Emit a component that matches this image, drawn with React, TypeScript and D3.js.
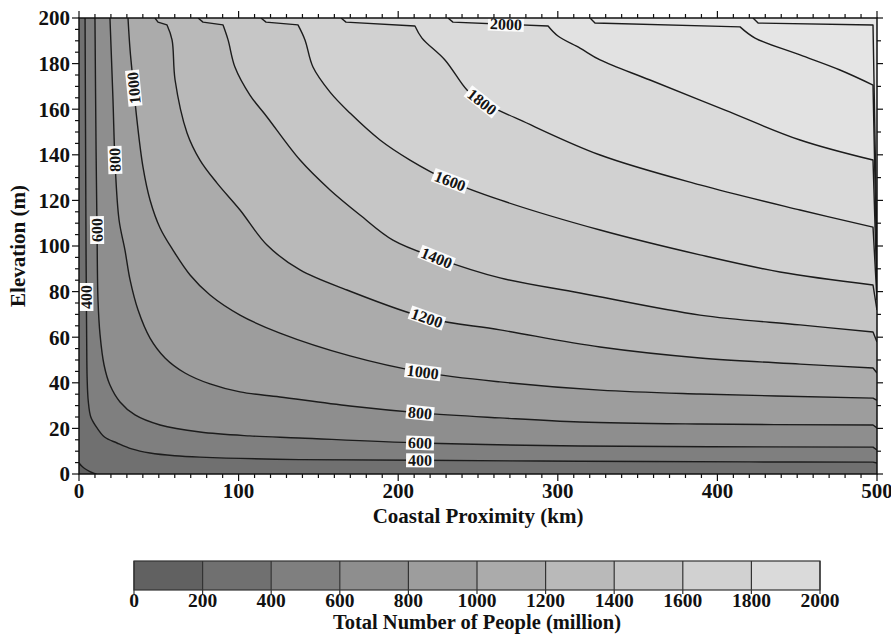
import React from 'react';
import * as d3 from 'd3';

type Pt = [number, number];

// axis ticks
const xMajor = [0, 100, 200, 300, 400, 500];
const yMajor = [0, 20, 40, 60, 80, 100, 120, 140, 160, 180, 200];
const colorbarTicks = [0, 200, 400, 600, 800, 1000, 1200, 1400, 1600, 1800, 2000];

// contour levels (million people) and the grey of each band (band i lies below level i)
const contourLevels = [200, 400, 600, 800, 1000, 1200, 1400, 1600, 1800, 2000, 2200, 2400];
const bandGrays = ['#616161', '#707070', '#7f7f7f', '#8e8e8e', '#9d9d9d', '#ababab', '#b9b9b9',
  '#c6c6c6', '#d1d1d1', '#dadada', '#e2e2e2', '#e5e5e5', '#e7e7e7'];

// contour lines: [coastal proximity km, elevation m]
const c200: Pt[] = [[0, 4.8], [1.5, 3.6], [3.5, 2.4], [6.5, 1.2], [9.5, 0.3], [11, 0]];
const c400: Pt[] = [[3.8, 200], [4.1, 150], [4.4, 100], [4.8, 60], [5.1, 42], [5.8, 32], [7.4, 25],
  [11.3, 20.2], [16, 16.2], [23.8, 13.6], [33, 11], [44.5, 9.2], [60, 8], [75.8, 7.4], [138, 6.3],
  [214, 6], [314, 5.6], [420, 5.3], [497.5, 5.2], [500, 4.8]];
const c600: Pt[] = [[10, 200], [10.7, 142], [11.3, 107], [11.9, 76.3], [13.2, 61], [15.7, 47.8],
  [19.4, 39], [25.7, 31.6], [35.1, 25.9], [50.8, 21.5], [75.8, 18.4], [107, 16.7], [138, 15.8],
  [214, 13.6], [314, 12.3], [497.5, 11.8], [500, 10.5]];
const c800: Pt[] = [[19.4, 200], [21.3, 164], [22.6, 136.4], [25.1, 111.4], [28.8, 98.2], [32, 85.1],
  [37, 71.9], [44.5, 59.6], [53.9, 50.9], [66.4, 44.3], [82.1, 39.5], [100.9, 36], [125.9, 33.8],
  [169.8, 29.8], [213.7, 26.8], [263.8, 24.6], [313.9, 22.8], [389.1, 21.9], [497.5, 21.5], [500, 20.2]];
const c1000: Pt[] = [[30.7, 200], [32, 186], [33.8, 172.8], [36.3, 155.3], [40.1, 134.6], [44.5, 120.2],
  [50.8, 107.9], [58.9, 98.2], [69.6, 87.3], [82.1, 78.5], [100.9, 69.7], [125.9, 61.8], [169.8, 51.8],
  [214.9, 44.7], [263.8, 40.4], [326.5, 36.8], [389.1, 35.1], [497.5, 33.3], [500, 32.3]];
const c1200: Pt[] = [[47.6, 200], [49.5, 198.2], [55.1, 197], [58.3, 190.4], [60.2, 172.8], [67.7, 149.6],
  [75.8, 137.7], [86.5, 127.6], [100.9, 115.8], [117.8, 100.4], [138.5, 89.5], [167.9, 80.7], [218, 68.4],
  [263.8, 63.2], [326.5, 55.7], [389.1, 50.9], [451.8, 48.2], [497.5, 46.5], [500, 44.3]];
const c1400: Pt[] = [[74.6, 200], [77.7, 198.2], [90.2, 197], [93.4, 190.4], [97.7, 178.5], [107.1, 166.2],
  [117.8, 156.6], [138.5, 137.7], [157.3, 124.6], [176.1, 113.6], [196.7, 102.6], [224.3, 94.7],
  [263.8, 86], [313.9, 79.4], [389.1, 69.7], [451.8, 65.4], [497.5, 62.3], [500, 57.9]];
const c1600: Pt[] = [[114, 200], [117.2, 198.2], [137.2, 197], [141.6, 190.4], [146.6, 178.5],
  [157.3, 167.5], [169.8, 158.3], [188.6, 146.5], [207.4, 137.7], [230.6, 129], [263.8, 120.2],
  [326.5, 107], [389.1, 96.1], [439.2, 88.6], [497.5, 82.9], [500, 71.9]];
const c1800: Pt[] = [[164.2, 200], [167.3, 198.2], [210.5, 196.5], [214.9, 191.2], [229.3, 181.6],
  [243.1, 168.4], [252.5, 163.2], [276.3, 155.3], [326.5, 139.9], [389.1, 126.8], [451.8, 115.8],
  [497.5, 108.3], [500, 76.3]];
const c2000: Pt[] = [[231.2, 200], [234.3, 198.2], [293.9, 196.5], [300.1, 192.1], [313.9, 186.8],
  [326.5, 181.6], [357.8, 172.8], [404.8, 159.6], [451.8, 146.5], [497.5, 137.7], [500, 80.7]];
const c2200: Pt[] = [[320.2, 200], [323.3, 197.8], [414.2, 196.1], [423.6, 191.2], [451.8, 183.8],
  [476.8, 177.2], [497.5, 170.6], [500, 85.1]];
const c2400: Pt[] = [[422.3, 200], [425.5, 197.8], [497.5, 196.9], [500, 98.2]];
const contourLines = [c200, c400, c600, c800, c1000, c1200, c1400, c1600, c1800, c2000, c2200, c2400];

// inline contour labels: level and approximate spot
const labelLevels = [400, 600, 800, 1000, 400, 600, 800, 1000, 1200, 1400, 1600, 1800, 2000];
const labelSpots: Pt[] = [[4.4, 77.6], [11.3, 107], [21.3, 137.7], [35.1, 169.3], [213.7, 6.1],
  [213.7, 13.6], [213.7, 26.8], [215.5, 45.2], [218, 68.4], [224.3, 95.2], [232.5, 128.5],
  [252.5, 163.2], [267.5, 197.4]];

const W = 891, H = 634;
const plot = { left: 79, right: 877, top: 18, bottom: 474 };
const font = "'Liberation Serif', 'Times New Roman', serif";

const x = d3.scaleLinear().domain([0, 500]).range([plot.left, plot.right]);
const y = d3.scaleLinear().domain([0, 200]).range([plot.bottom, plot.top]);
const cb = d3.scaleLinear().domain([0, 2000]).range([134, 820]);

const smooth = d3.line<Pt>().x(d => x(d[0])).y(d => y(d[1])).curve(d3.curveCatmullRom.alpha(0.5));
const straight = d3.line<Pt>().x(d => x(d[0])).y(d => y(d[1]));

// the run along the top edge and the drop along the right edge are drawn straight, the rest smooth
function contourPath(pts: Pt[]) {
  let head = 0;
  while (head + 1 < pts.length && pts[head + 1][1] > 196) head++;
  let tail = pts.length - 1;
  if (pts[tail][0] >= 500 && pts[tail - 1][0] >= 495) tail--;
  if (tail < head) tail = head;
  const parts: string[] = [];
  if (head > 0) parts.push(straight(pts.slice(0, head + 1)) || '');
  const body = pts.slice(head, tail + 1);
  if (body.length > 1) parts.push(smooth(body) || '');
  if (tail < pts.length - 1) parts.push(straight(pts.slice(tail)) || '');
  return parts.map((s, i) => (i === 0 ? s : 'L' + s.slice(1))).join('');
}

function placeLabel(pts: Pt[], at: Pt) {
  const P = pts.map(p => [x(p[0]), y(p[1])]);
  const qx = x(at[0]), qy = y(at[1]);
  let best = { d: Infinity, px: 0, py: 0, ang: 0 };
  for (let i = 0; i < P.length - 1; i++) {
    const [x0, y0] = P[i], [x1, y1] = P[i + 1];
    const dx = x1 - x0, dy = y1 - y0, l2 = dx * dx + dy * dy;
    let t = l2 ? ((qx - x0) * dx + (qy - y0) * dy) / l2 : 0;
    t = Math.max(0, Math.min(1, t));
    const px = x0 + t * dx, py = y0 + t * dy;
    const d = (px - qx) ** 2 + (py - qy) ** 2;
    if (d < best.d) best = { d, px, py, ang: Math.atan2(dy, dx) * 180 / Math.PI };
  }
  let a = best.ang;
  if (a > 60) a -= 180;
  if (a < -120) a += 180;
  return { px: best.px, py: best.py, ang: a };
}

export default function App() {
  const bands = contourLines.map((pts, i) => {
    let d = contourPath(pts);
    if (i === 0) d += `L${x(500)},${y(0)}L${x(500)},${y(200)}L${x(0)},${y(200)}Z`;
    else d += `L${x(500)},${y(200)}Z`;
    return <path key={i} d={d} fill={bandGrays[i + 1]} />;
  });

  const xMinor = d3.range(0, 501, 10);
  const yMinor = d3.range(0, 201, 5);
  const yRight = d3.range(0, 201, 10);

  return (
    <svg width={W} height={H} style={{ position: 'absolute', left: 0, top: 0, background: '#fff' }}
      fontFamily={font}>
      <defs>
        <clipPath id="plotClip">
          <rect x={plot.left} y={plot.top} width={plot.right - plot.left} height={plot.bottom - plot.top} />
        </clipPath>
      </defs>

      <g clipPath="url(#plotClip)">
        <rect x={plot.left} y={plot.top} width={plot.right - plot.left} height={plot.bottom - plot.top}
          fill={bandGrays[0]} />
        {bands}
        {contourLines.map((pts, i) => (
          <path key={'l' + contourLevels[i]} d={contourPath(pts)} fill="none" stroke="#1c1c1c"
            strokeWidth={1.4} strokeLinejoin="round" />
        ))}
        {labelLevels.map((lev, i) => {
          const pts = contourLines[contourLevels.indexOf(lev)];
          const p = placeLabel(pts, labelSpots[i]);
          const txt = String(lev);
          const w = txt.length * 8 + 4;
          return (
            <g key={'t' + i} transform={`translate(${p.px},${p.py}) rotate(${p.ang})`}>
              <rect x={-w / 2} y={-7} width={w} height={14} fill="#fbfbfb" />
              <text textAnchor="middle" dy="0.34em" fontSize={16} fontWeight="bold" fill="#141414">{txt}</text>
            </g>
          );
        })}
      </g>

      {/* frame */}
      <rect x={plot.left} y={plot.top} width={plot.right - plot.left} height={plot.bottom - plot.top}
        fill="none" stroke="#111" strokeWidth={1.5} />

      {/* bottom + top ticks */}
      {xMinor.map(v => {
        const len = v % 100 === 0 ? 7 : 4;
        return (
          <g key={'xt' + v} stroke="#111" strokeWidth={1.2}>
            <line x1={x(v)} x2={x(v)} y1={plot.bottom} y2={plot.bottom + len} />
            <line x1={x(v)} x2={x(v)} y1={plot.top} y2={plot.top - len} />
          </g>
        );
      })}
      {/* left ticks */}
      {yMinor.map(v => (
        <line key={'yt' + v} x1={plot.left} x2={plot.left - (v % 20 === 0 ? 7 : 4)} y1={y(v)} y2={y(v)}
          stroke="#111" strokeWidth={1.2} />
      ))}
      {/* right ticks */}
      {yRight.map(v => (
        <line key={'yr' + v} x1={plot.right} x2={plot.right + (v % 20 === 0 ? 6 : 4)} y1={y(v)} y2={y(v)}
          stroke="#111" strokeWidth={1.2} />
      ))}

      {xMajor.map(v => (
        <text key={'xl' + v} x={x(v)} y={498} textAnchor="middle" fontSize={21} fontWeight="bold" fill="#111">{v}</text>
      ))}
      {yMajor.map(v => (
        <text key={'yl' + v} x={70} y={y(v)} dy="0.35em" textAnchor="end" fontSize={21} fontWeight="bold" fill="#111">{v}</text>
      ))}

      <text x={(plot.left + plot.right) / 2} y={523} textAnchor="middle" fontSize={21} fontWeight="bold" fill="#111">
        Coastal Proximity (km)
      </text>
      <text transform={`translate(18,${(plot.top + plot.bottom) / 2}) rotate(-90)`} textAnchor="middle"
        dy="0.35em" fontSize={21} fontWeight="bold" fill="#111">
        Elevation (m)
      </text>

      {/* colour bar */}
      {colorbarTicks.slice(0, -1).map((v, i) => (
        <rect key={'cb' + v} x={cb(v)} y={561} width={cb(v + 200) - cb(v)} height={29} fill={bandGrays[i]} />
      ))}
      <rect x={cb(0)} y={561} width={cb(2000) - cb(0)} height={29} fill="none" stroke="#333" strokeWidth={1.2} />
      {colorbarTicks.map(v => (
        <line key={'cbt' + v} x1={cb(v)} x2={cb(v)} y1={561} y2={594} stroke="#333" strokeWidth={1.2} />
      ))}
      {colorbarTicks.map(v => (
        <text key={'cbl' + v} x={cb(v)} y={607} textAnchor="middle" fontSize={19.5} fontWeight="bold" fill="#111">{v}</text>
      ))}
      <text x={(cb(0) + cb(2000)) / 2} y={629} textAnchor="middle" fontSize={20.5} fontWeight="bold" fill="#111">
        Total Number of People (million)
      </text>
    </svg>
  );
}
